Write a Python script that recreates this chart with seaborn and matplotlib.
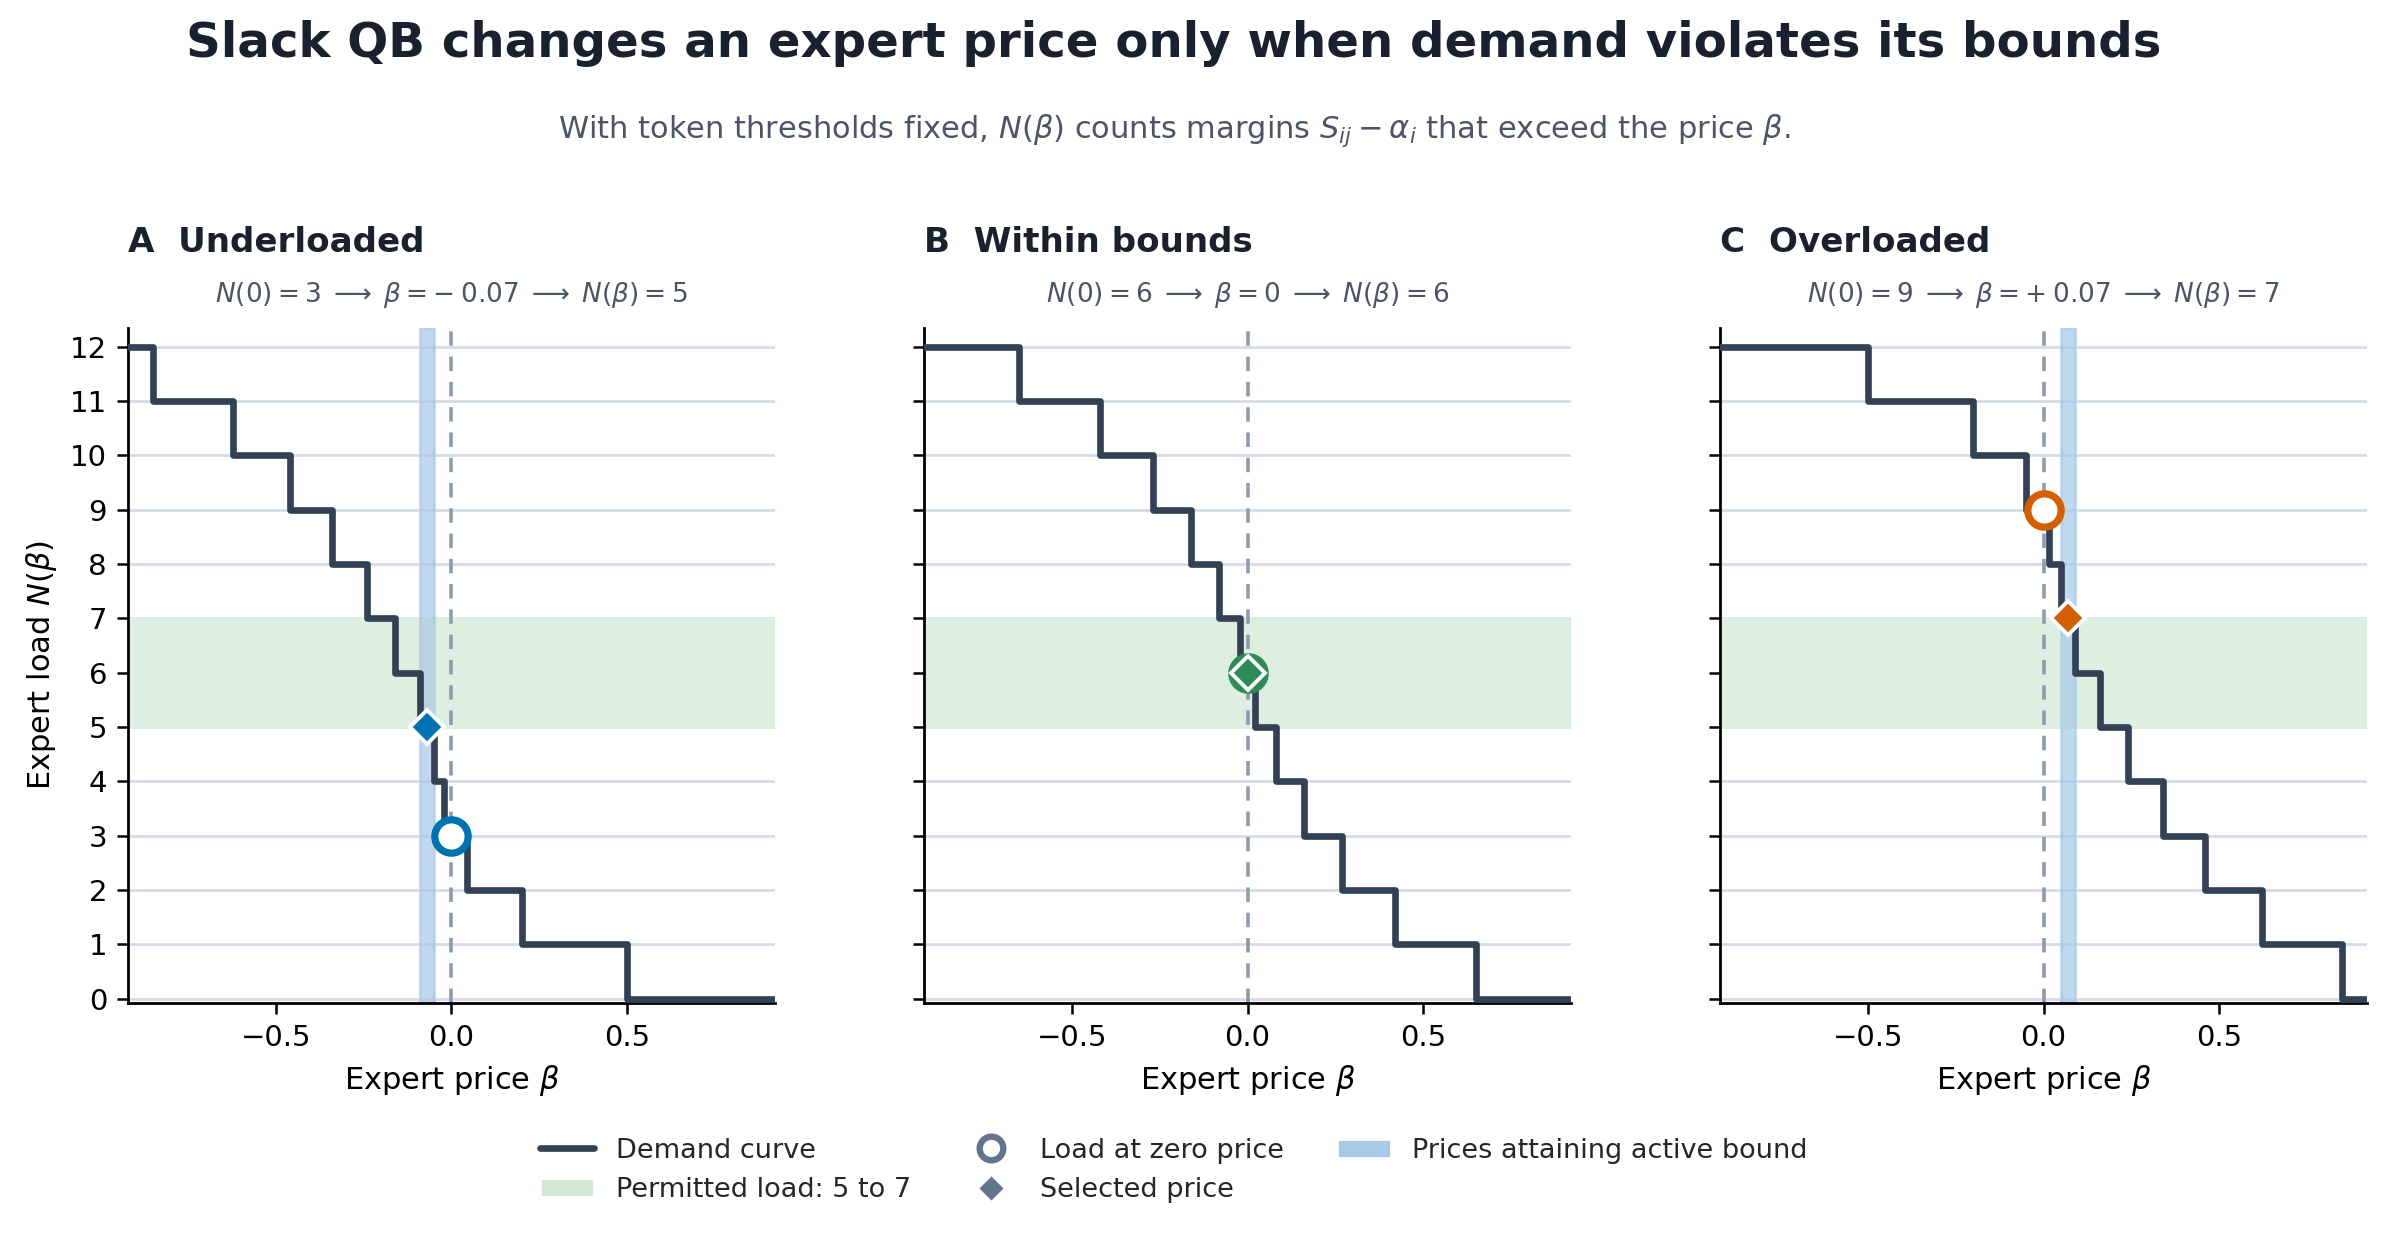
"""
Slack QB demand curves: three expert load regimes.
"""
import numpy as np
import matplotlib
matplotlib.use('Agg')
import matplotlib.pyplot as plt
import seaborn as sns
from matplotlib.lines import Line2D
from matplotlib.patches import Patch

# sorted margins S_ij - alpha_i for each expert (one step per margin)
margins_under = [-0.85, -0.62, -0.46, -0.34, -0.24, -0.16, -0.09, -0.05, -0.02, 0.045, 0.20, 0.50]
margins_within = [-0.65, -0.42, -0.27, -0.16, -0.08, -0.02, 0.02, 0.08, 0.16, 0.27, 0.42, 0.65]
margins_over = [-0.50, -0.20, -0.05, 0.015, 0.05, 0.09, 0.16, 0.24, 0.34, 0.46, 0.62, 0.85]

panel_letters = ['A', 'B', 'C']
panel_names = ['Underloaded', 'Within bounds', 'Overloaded']
load_at_zero = [3, 6, 9]
selected_price = [-0.07, 0.0, 0.07]
selected_label = [r'-\:0.07', '0', r'+\:0.07']
selected_load = [5, 6, 7]
active_band = [(-0.09, -0.05), None, (0.05, 0.09)]
panel_colors = ['#0072B2', '#2E8B57', '#D55E00']

load_lower, load_upper = 5, 7
x_range = (-0.92, 0.92)

INK = '#18212d'
MUTED = '#4a5568'
CURVE = '#334155'
GRID = '#d6dce7'
DASH = '#8d9bb0'
GREEN_BAND = '#ddefe0'
BLUE_BAND = '#a8c8e8'

sns.set_theme(style='ticks')
plt.rcParams['font.family'] = ['DejaVu Sans']
plt.rcParams['axes.edgecolor'] = 'black'

fig, axes = plt.subplots(1, 3, figsize=(11.955, 6.18), dpi=200, sharey=True)
fig.subplots_adjust(left=0.0535, right=0.990, top=0.735, bottom=0.1885, wspace=0.23)

all_margins = [margins_under, margins_within, margins_over]
for i, ax in enumerate(axes):
    margins = all_margins[i]
    color = panel_colors[i]

    # demand curve N(beta): count of margins above beta
    xs = [x_range[0]] + list(margins) + [x_range[1]]
    ys = list(range(len(margins), -1, -1)) + [0]
    for yv in range(0, 13):
        ax.axhline(yv, color=GRID, lw=1.0, zorder=0)
    ax.axhspan(load_lower, load_upper, color=GREEN_BAND, lw=1.0, zorder=0.5)
    if active_band[i] is not None:
        lo, hi = active_band[i]
        ax.axvspan(lo, hi, facecolor=BLUE_BAND, edgecolor=BLUE_BAND, alpha=0.7, lw=1.0, zorder=1)
    ax.axvline(0, color=DASH, lw=1.3, dashes=(4, 3), zorder=1.5)

    sns.lineplot(x=xs, y=ys, ax=ax, color=CURVE, lw=2.4, drawstyle='steps-post',
                 estimator=None, sort=False, zorder=3)

    face = color if selected_price[i] == 0 else 'white'
    ax.plot([0], [load_at_zero[i]], marker='o', ms=12, mew=2.6, mfc=face, mec=color,
            ls='none', zorder=5)
    ax.plot([selected_price[i]], [selected_load[i]], marker='D', ms=8.5, mew=1.4,
            mfc=color, mec='white', ls='none', zorder=6)

    ax.set_xlim(*x_range)
    ax.set_ylim(-0.08, 12.35)
    ax.set_xticks([-0.5, 0.0, 0.5])
    ax.set_yticks(range(0, 13))
    ax.tick_params(axis='both', labelsize=10.5, length=4, width=0.9, colors='black')
    ax.set_xlabel(r'Expert price $\beta$', fontsize=11, color='black')
    if i == 0:
        ax.set_ylabel(r'Expert load $N(\beta)$', fontsize=11, color='black')
    sns.despine(ax=ax)
    for side in ['left', 'bottom']:
        ax.spines[side].set_linewidth(1.0)

    ax.set_title(f'{panel_letters[i]}  {panel_names[i]}', loc='left', fontsize=12.3,
                 fontweight='bold', color=INK, y=1.087)
    ax.text(0.5, 1.048, rf'$N(0) = {load_at_zero[i]} \;\longrightarrow\; \beta = {selected_label[i]}'
            rf' \;\longrightarrow\; N(\beta) = {selected_load[i]}$',
            transform=ax.transAxes, ha='center', va='center', fontsize=9.5, color=MUTED)

fig.text(0.491, 0.965, 'Slack QB changes an expert price only when demand violates its bounds',
         ha='center', va='center', fontsize=17.4, fontweight='bold', color=INK)
fig.text(0.491, 0.894, r'With token thresholds fixed, $N(\beta)$ counts margins $S_{ij} - \alpha_i$ '
         r'that exceed the price $\beta$.', ha='center', va='center', fontsize=11, color=MUTED)

legend_grey = '#64748b'
handles = [
    Line2D([0], [0], color=CURVE, lw=2.4, label='Demand curve'),
    Patch(facecolor='#cfe9d4', label='Permitted load: 5 to 7'),
    Line2D([0], [0], marker='o', ls='none', ms=8.5, mfc='white', mec=legend_grey, mew=2.3,
           label='Load at zero price'),
    Line2D([0], [0], marker='D', ls='none', ms=7, mfc=legend_grey, mec='white', mew=1,
           label='Selected price'),
    Patch(facecolor=BLUE_BAND, label='Prices attaining active bound'),
]
fig.legend(handles=handles, loc='center', bbox_to_anchor=(0.491, 0.053), ncol=3,
           frameon=False, fontsize=9.75, columnspacing=1.95, handlelength=2.0)

plt.savefig('out.png', dpi=200)
plt.close()
